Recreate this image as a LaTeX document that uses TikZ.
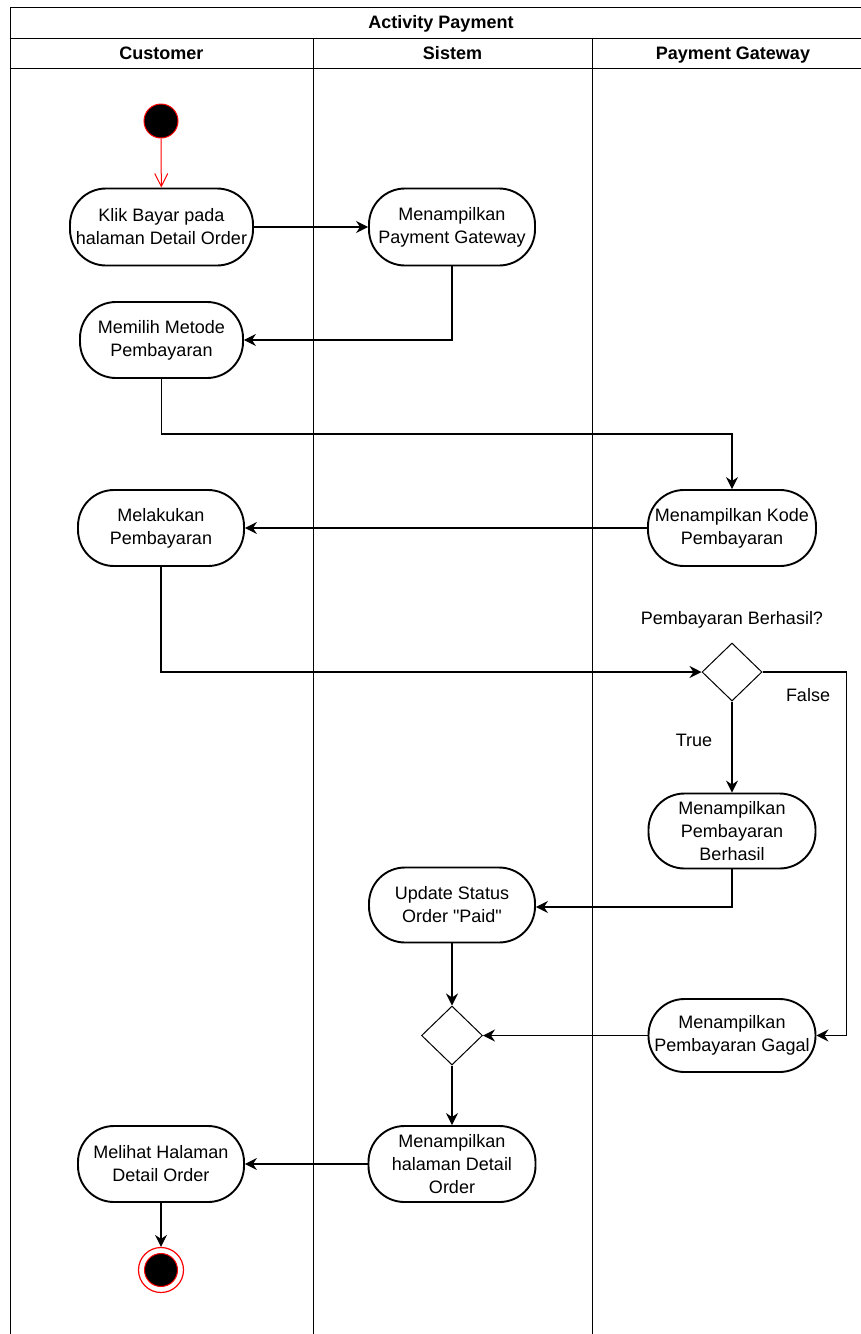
\documentclass[tikz,border=0pt]{standalone}
\usepackage{fontspec}
\setmainfont{Liberation Sans}[Ligatures=TeXOff]
\usetikzlibrary{arrows.meta}
\usetikzlibrary{shapes.geometric}

\begin{document}
\begin{tikzpicture}[x=1pt, y=-1pt,
		act/.style={rectangle, rounded corners=36pt, draw, line width=1.9pt, minimum width=166pt, minimum height=76pt, inner sep=0pt, align=center, font=\fontsize{18}{23}\selectfont},
		decision/.style={diamond, draw, line width=1pt, minimum width=60pt, minimum height=58pt, inner sep=0pt},
		lane/.style={draw, line width=1pt},
		head/.style={anchor=base, font=\bfseries\fontsize{18}{22}\selectfont},
		lbl/.style={font=\fontsize{18}{22}\selectfont},
		flow/.style={draw, line width=1.2pt, -{Stealth[length=12pt, width=12pt, inset=4pt]}}]
		\useasboundingbox (0,0) rectangle (861,1334);

		% Swimlane frame
		\begin{scope}
			\clip (0,0) rectangle (861,1334);
			\draw [lane] (10,7) rectangle (874,1345);
			\draw [lane] (10,38) -- (874,38);
			\draw [lane] (10,68) -- (874,68);
			\draw [lane] (313,38) -- (313,1345);
			\draw [lane] (592,38) -- (592,1345);
		\end{scope}
		\node (title) at (441,28) [head] {Activity Payment};
		\node (hcust) at (161.5,59) [head] {Customer};
		\node (hsys) at (452.5,59) [head] {Sistem};
		\node (hpg) at (733,59) [head] {Payment Gateway};

		% Start
		\node (start) at (161,121) [circle, fill=black, draw=red, line width=1pt, minimum size=34pt, inner sep=0pt] {};

		% Customer activities
		\node (klik) at (161.5,227) [act, minimum width=183pt, minimum height=77pt] {Klik Bayar pada\\halaman Detail Order};
		\node (memilih) at (161.5,340) [act, minimum width=163pt] {Memilih Metode\\Pembayaran};
		\node (melakukan) at (161,528) [act] {Melakukan\\Pembayaran};
		\node (melihat) at (161,1164) [act] {Melihat Halaman\\Detail Order};

		% Sistem activities
		\node (pg) at (452,227) [act, minimum height=77pt] {Menampilkan\\Payment Gateway};
		\node (update) at (452,905) [act, minimum height=75pt] {Update Status\\Order "Paid"};
		\node (merge) at (452,1035.5) [decision, minimum width=61pt, minimum height=59pt] {};
		\node (halaman) at (452,1164) [act, minimum width=167pt] {Menampilkan\\halaman Detail\\Order};

		% Payment Gateway activities
		\node (kode) at (732,528) [act, minimum width=168pt] {Menampilkan Kode\\Pembayaran};
		\node (dec) at (732,672) [decision] {};
		\node (qlbl) at (732,620) [lbl] {Pembayaran Berhasil?};
		\node (berhasil) at (732,831) [act, minimum width=167pt, minimum height=75pt] {Menampilkan\\Pembayaran\\Berhasil};
		\node (gagal) at (732,1035.5) [act, minimum width=167pt, minimum height=73pt] {Menampilkan\\Pembayaran Gagal};
		\node (ltrue) at (694,740) [lbl] {True};
		\node (lfalse) at (808,695) [lbl] {False};

		% End
		\node (endo) at (161,1270) [circle, fill=white, draw=red, line width=1.2pt, minimum size=45pt, inner sep=0pt] {};
		\node (endi) at (161,1270) [circle, fill=black, draw=red, line width=1pt, minimum size=33pt, inner sep=0pt] {};

		% Connections
		\coordinate (bend) at (450,434);
		\draw [red, line width=1pt, -{Straight Barb[length=13pt, width=13pt]}] (start) -- (klik);
		\draw [flow] (klik) -- (pg);
		\draw [flow] (pg.south) |- (memilih.east);
		\draw [flow] (memilih.south) |- (bend) -| (kode.north);
		\draw [flow] (kode) -- (melakukan);
		\draw [flow] (melakukan.south) |- (dec.west);
		\draw [flow] (dec.south) -- (berhasil.north);
		\draw [flow] (dec.east) -- ++(84,0) |- (gagal.east);
		\draw [flow] (berhasil.south) |- ([yshift=-2pt]update.east);
		\draw [flow] (update) -- (merge);
		\draw [flow] (gagal) -- (merge);
		\draw [flow] (merge) -- (halaman);
		\draw [flow] (halaman) -- (melihat);
		\draw [flow] (melihat) -- (endo);
	\end{tikzpicture}
\end{document}
